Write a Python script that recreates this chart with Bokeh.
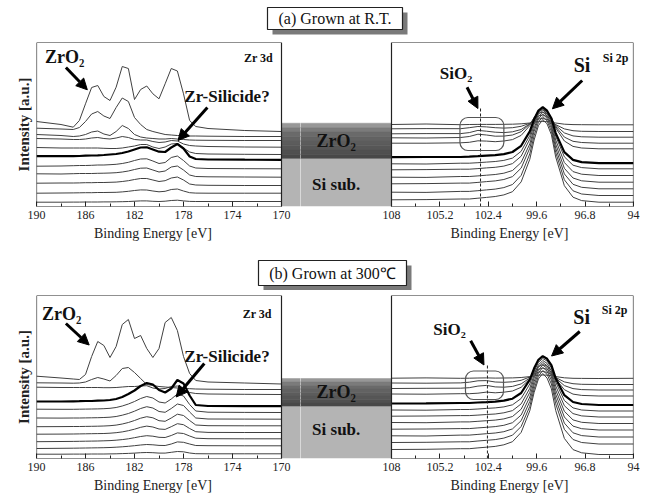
from bokeh.plotting import figure
from bokeh.models import (Range1d, FixedTicker, BoxAnnotation, Arrow, NormalHead,
                          Label, Title, PrintfTickFormatter)
from bokeh.layouts import column, row
from bokeh.embed import file_html
from bokeh.resources import INLINE
from bokeh.core.properties import value

SERIF = "Liberation Serif"

# ------------------------------------------------------------------ data
ZR_E = [190, 188, 187, 186.5, 186, 185.5, 185, 184.5, 184, 183.5, 183, 182.5, 182,
        181.5, 181, 180.5, 180, 179.5, 179, 178.5, 178, 177.5, 177, 176, 173, 170]
SI_E = [108, 106, 104, 103.5, 103, 102.5, 102, 101.5, 101, 100.5, 100, 99.75, 99.5,
        99.25, 99, 98.75, 98.5, 98, 97.5, 97, 96, 94]

# (a) grown at R.T. -- Zr 3d, offset spectra (top -> bottom)
ZR_A = [
    [85, 82, 79.3, 86, 102.7, 119, 121, 110, 106, 119.3, 140, 138, 107, 117, 120.5, 112.7, 107.7, 122.7, 138, 135.5, 112.7, 86, 80, 78, 76, 75],
    [78.3, 77.5, 77, 79, 85, 92.5, 95, 90.5, 88, 99, 108.5, 105, 89, 82, 77, 75, 73.5, 72, 71.5, 71, 71, 70.5, 70.5, 70.3, 70, 70],
    [72, 71, 70, 70.5, 72, 74.5, 75.5, 72.5, 71, 75, 81, 78, 72, 69.5, 68.5, 68, 67.5, 67.5, 68, 67.5, 67, 66.5, 66.3, 66.2, 66, 66],
    [68, 67.5, 67, 67, 67.5, 68.5, 69, 68, 67.5, 68.5, 70, 69, 67, 66.5, 66.5, 65, 64, 64.5, 66, 65.5, 62.5, 61, 60.5, 60, 59.5, 59.3],
    [59, 58.5, 58.5, 58.5, 58.5, 58.5, 58.5, 58.2, 58, 58, 58.5, 59.5, 60.5, 62, 62, 59.5, 58, 59.5, 62.5, 63, 58.5, 54.5, 53, 52.5, 52.2, 52],
    [50.3, 50.5, 50.3, 50.5, 50.8, 51, 51.2, 51.5, 52, 52.5, 53.5, 55, 57, 59, 59.2, 57, 54.8, 54.5, 59, 62.5, 58, 50, 47.5, 47, 46.8, 46.7],
    [40.3, 40.5, 40.8, 41, 41, 41.2, 41.5, 41.5, 41.8, 42.2, 43, 44.2, 46, 47.5, 47.7, 45.5, 43, 44, 49, 50.5, 46, 40.5, 38.5, 38, 37.8, 37.7],
    [32.7, 32.5, 32.8, 33, 33, 33, 33.2, 33.3, 33.5, 33.8, 34.5, 35.5, 37, 38.3, 38.5, 36.5, 34.5, 35.5, 39.5, 40.5, 36.5, 31.5, 30, 29.7, 29.5, 29.3],
    [23.3, 23.5, 23.5, 23.6, 23.8, 23.8, 24, 24, 24.2, 24.4, 25, 25.8, 27, 28, 28, 26.5, 25, 25.8, 28.5, 29.5, 26.5, 22.5, 21.5, 21.2, 21, 21],
    [13.3, 13.5, 13.6, 13.7, 13.8, 13.8, 14, 14, 14.1, 14.2, 14.6, 15.2, 16, 16.6, 16.5, 15.5, 14.7, 15.2, 17, 17.5, 15.5, 13.8, 13.4, 13.3, 13.3, 13.3],
    [4.3, 4.3, 4.4, 4.4, 4.5, 4.5, 4.5, 4.6, 4.6, 4.7, 4.8, 5, 5.3, 5.6, 5.6, 5.2, 5, 5.3, 6, 6.3, 5.6, 5.1, 5, 5, 5, 5],
]
ZR_A_BOLD = 5

# (a) Si 2p
SI_A = [
    [82, 82.5, 81.8, 82, 82.1, 82.1, 82.1, 82.2, 82.3, 82.7, 83.5, 84.2, 84.8, 85, 84.8, 84.3, 83.5, 82.3, 81.9, 81.8, 81.7, 81.7],
    [77.7, 77.9, 77.8, 78.8, 80.0, 79.6, 78.8, 78.4, 78.8, 80.2, 83.2, 85.7, 87.5, 88, 87.0, 85.2, 81.9, 77.6, 75.8, 75.2, 75, 75],
    [72.7, 72.9, 72.9, 73.9, 76.1, 75.3, 74.3, 73.9, 74.7, 77.0, 82.6, 87.1, 90.5, 91.5, 90.0, 87.0, 81.1, 73.6, 70.6, 69.7, 69.3, 69.3],
    [68.7, 68.5, 69.0, 70.0, 72.3, 71.5, 70.3, 70.4, 71.5, 74.8, 82.3, 88.6, 93.2, 94.5, 92.3, 88.1, 79.9, 69.4, 65.2, 64.0, 63.3, 63.3],
    [63.3, 63.3, 63.7, 64.2, 65.7, 65.4, 64.8, 65.5, 66.9, 71.1, 80.9, 89.1, 94.9, 97, 94.3, 88.9, 78.6, 65.5, 60.1, 58.5, 57.7, 57.7],
    [49.3, 49.5, 49.5, 49.8, 50.3, 50.9, 51.4, 52.4, 54.5, 60.7, 75.1, 87.2, 96.0, 99.3, 95.8, 88.3, 73.4, 54.4, 46.6, 44.4, 43.3, 43.3],
    [42.7, 42.5, 43.3, 43.3, 43.8, 44.4, 45.0, 46.1, 48.4, 55.2, 71.0, 84.4, 94.2, 98, 94.4, 86.4, 70.3, 49.7, 41.3, 38.9, 37.7, 37.7],
    [36.7, 36.9, 37.3, 37.3, 37.9, 38.6, 39.2, 40.4, 42.9, 50.3, 67.3, 81.8, 92.4, 96.5, 92.6, 83.8, 66.5, 44.0, 34.9, 32.3, 31, 31],
    [29.3, 29.1, 30.0, 30.0, 30.6, 31.3, 32.0, 33.3, 36.0, 44.0, 62.6, 78.3, 89.9, 94.5, 90.4, 81.1, 62.4, 38.2, 28.5, 25.7, 24.3, 24.3],
    [22.7, 22.9, 23.4, 23.4, 24.1, 24.9, 25.6, 27.0, 29.9, 38.4, 58.3, 75.1, 87.6, 92.5, 88.2, 78.3, 58.3, 32.6, 22.2, 19.2, 17.7, 17.7],
    [14.3, 14.1, 15.1, 15.1, 15.8, 16.6, 17.4, 18.9, 22.0, 31.1, 52.6, 70.8, 84.3, 90, 85.7, 75.2, 54.1, 26.7, 15.7, 12.5, 11, 11],
    [6.7, 6.9, 7.5, 7.5, 8.3, 9.1, 10.0, 11.6, 14.8, 24.6, 47.2, 66.5, 80.9, 87, 82.6, 71.8, 49.5, 20.8, 9.3, 5.9, 4.3, 4.3],
]
SI_A_BOLD = 5

# (b) grown at 300 C -- Zr 3d
ZR_B = [
    [82.3, 80.5, 79.5, 79, 84, 102, 117, 113, 101, 112, 134, 139, 120, 123, 110, 101, 110, 136, 141, 128, 102, 85, 78, 76.5, 75.5, 74.5],
    [75.7, 75.5, 75.3, 75.5, 76.5, 79, 81, 79.5, 77.5, 83, 90, 91, 86, 80, 74, 73, 72, 71.5, 71, 70.5, 70, 69.8, 69.5, 69.3, 69, 69],
    [71.3, 71, 71, 71, 71, 71, 71, 70.8, 70.8, 71, 71.5, 72, 72, 72.5, 72.8, 70.5, 69.5, 70, 72, 72.5, 69, 66, 65, 64.5, 64.2, 64],
    [57, 57, 57.2, 57.3, 57.5, 57.5, 57.8, 58, 58.5, 59.5, 61.5, 64.5, 68, 72.5, 75.5, 74, 68.5, 66, 70, 78.5, 75, 63, 53.5, 52.5, 52.3, 52.3],
    [49.3, 49.2, 49.2, 49.3, 49.4, 49.5, 49.6, 49.8, 50.2, 51, 52.5, 54.5, 57, 60, 62, 60.5, 56.5, 55.5, 59.5, 64.5, 62.5, 54, 47.5, 46.3, 46.1, 46],
    [40.5, 40.4, 40.5, 40.5, 40.6, 40.7, 40.8, 41, 41.3, 42, 43.3, 45, 47.3, 50, 51.8, 50.5, 47, 46.2, 50, 54.5, 53, 46.5, 40.5, 39.5, 39.4, 39.3],
    [31.8, 31.9, 32, 32, 32.1, 32.2, 32.3, 32.5, 32.8, 33.4, 34.5, 36, 38, 40.3, 41.8, 40.7, 37.8, 37.2, 40.5, 44.3, 43, 38, 33.5, 32.8, 32.7, 32.7],
    [24.3, 24.4, 24.5, 24.6, 24.7, 24.8, 24.9, 25, 25.3, 25.8, 26.6, 27.8, 29.3, 31.2, 32.4, 31.5, 29.5, 29.1, 31.8, 34.8, 33.8, 30, 26.8, 26.1, 26, 26],
    [16.8, 17, 17.1, 17.2, 17.3, 17.4, 17.5, 17.7, 17.9, 18.3, 18.9, 19.7, 20.8, 22, 22.8, 22.3, 21.2, 21, 23, 25.6, 25, 22.5, 20.3, 19.8, 19.7, 19.7],
    [10, 10.2, 10.3, 10.4, 10.5, 10.6, 10.7, 10.8, 11, 11.3, 11.7, 12.2, 12.8, 13.5, 14, 13.7, 13.1, 13, 14.5, 16.6, 16.2, 14.5, 13, 12.8, 12.7, 12.7],
    [4.3, 4.3, 4.4, 4.4, 4.4, 4.5, 4.5, 4.5, 4.6, 4.7, 4.9, 5.1, 5.4, 5.8, 6, 5.8, 5.4, 5.4, 6.2, 7, 6.7, 5.5, 4.8, 4.7, 4.7, 4.7],
]
ZR_B_BOLD = 3

# (b) Si 2p
SI_B = [
    [80.3, 80.6, 80.2, 80.3, 80.5, 80.6, 80.4, 80.5, 80.6, 81.0, 81.9, 82.7, 83.3, 83.5, 83.3, 82.8, 81.9, 80.7, 80.2, 80.1, 80, 80.2],
    [75.5, 75.3, 75.6, 76.3, 77.7, 77.9, 76.5, 76.2, 76.7, 78.2, 81.5, 84.3, 86.2, 87, 86.2, 84.4, 81.0, 76.6, 74.8, 74.2, 74, 74],
    [70, 70.2, 70.3, 70.8, 72.4, 73.1, 71.6, 71.3, 72.1, 74.6, 80.5, 85.4, 89.0, 90.5, 89.2, 86.3, 80.4, 72.9, 69.9, 68.9, 68.5, 68.5],
    [64.5, 64.3, 64.8, 64.8, 65.3, 66.4, 65.7, 66.3, 67.5, 71.2, 79.6, 86.6, 91.9, 94, 92.2, 88.0, 79.6, 68.8, 64.4, 63.1, 62.5, 62.5],
    [55, 55.2, 55.5, 55.5, 56.0, 56.4, 56.9, 57.9, 59.8, 65.5, 78.9, 90.2, 98.7, 102.3, 99.7, 93.3, 80.1, 63.3, 56.5, 54.5, 53.5, 53.5],
    [48.5, 48.3, 49.0, 49.0, 49.5, 50.1, 50.6, 51.6, 53.7, 60.0, 74.5, 87.0, 96.2, 100, 97.5, 90.5, 76.4, 58.0, 50.6, 48.5, 47.5, 47.5],
    [42.3, 42.5, 42.9, 42.9, 43.4, 44.0, 44.5, 45.7, 47.9, 54.6, 70.2, 83.6, 93.6, 98, 95.1, 87.7, 72.5, 52.8, 44.9, 42.6, 41.5, 41.5],
    [36, 35.8, 36.6, 36.6, 37.2, 37.8, 38.4, 39.6, 42.0, 49.3, 66.1, 80.5, 91.3, 96, 92.8, 84.8, 68.4, 47.2, 38.6, 36.2, 35, 35],
    [29.3, 29.5, 29.9, 29.9, 30.6, 31.2, 31.9, 33.2, 35.8, 43.5, 61.5, 76.9, 88.4, 93.5, 90.2, 81.7, 64.2, 41.5, 32.4, 29.8, 28.5, 28.5],
    [22.7, 22.5, 23.4, 23.4, 24.1, 24.8, 25.5, 26.8, 29.6, 37.8, 57.0, 73.4, 85.7, 91, 87.4, 78.3, 59.6, 35.4, 25.7, 22.9, 21.5, 21.5],
    [16, 16.2, 16.7, 16.7, 17.5, 18.2, 18.9, 20.4, 23.3, 32.0, 52.2, 69.5, 82.4, 88, 84.2, 74.5, 54.7, 29.2, 19.0, 16.0, 14.5, 14.5],
    [9, 9.2, 9.8, 9.8, 10.6, 11.3, 12.1, 13.7, 16.8, 26.1, 47.7, 66.0, 79.6, 85, 80.4, 69.7, 48.0, 20.1, 8.9, 5.7, 4, 4],
]
SI_B_BOLD = 4

ZR_TICKS = [190, 186, 182, 178, 174, 170]
ZR_MINOR = [188, 184, 180, 176, 172]
SI_TICKS = [108, 105.2, 102.4, 99.6, 96.8, 94]
SI_MINOR = [106.6, 103.8, 101.0, 98.2, 95.4]

TITLE_A = "(a) Grown at R.T."
TITLE_B = "(b) Grown at 300\u2103"
X_LABEL = "Binding Energy [eV]"
Y_LABEL = "Intensity [a.u.]"

# ------------------------------------------------------------------ layout (page pixels)
PAGE_W = 645
SEAM = 300                     # boundary between the two figures of a row
L_FIG_W = SEAM
R_FIG_W = PAGE_W - SEAM
L_BORDER = 36                  # left frame starts here (190 eV)
L_PANEL_RIGHT = 281            # 170 eV
R_PANEL_LEFT = 391             # 108 eV
R_PANEL_RIGHT = 633            # 94 eV
R_BORDER = PAGE_W - R_PANEL_RIGHT
ZR_PPE = (L_PANEL_RIGHT - L_BORDER) / (ZR_TICKS[0] - ZR_TICKS[-1])
SI_PPE = (R_PANEL_RIGHT - R_PANEL_LEFT) / (SI_TICKS[0] - SI_TICKS[-1])
XL_END = ZR_TICKS[-1] - (SEAM - L_PANEL_RIGHT) / ZR_PPE
XR_START = SI_TICKS[0] + (R_PANEL_LEFT - SEAM) / SI_PPE
XLABEL_X = (152.5, 509)        # page x centres of the two "Binding Energy" labels

LINE_C = "#404040"
ZRO2_SHADES = ["#979797", "#7b7b7b", "#6a6a6a", "#626262", "#5c5c5c", "#565656", "#505050", "#484848"]
SISUB_C = "#b4b4b4"

ROW_A = dict(height=186, top=4, bottom=18, ymax=164, zro2=(47.7, 83.3), sisub=(0, 47.7),
             yl_off=-2.7,
             zro2_lbl=(189.3, 150), zro2_arrow=(187.6, 139, 185.85, 116.7),
             zr3d=(170.7, 149), silicide=(174.45, 110), sil_arrow=(176.05, 99, 178.45, 66),
             sio2_lbl=(104.27, 133), sio2_arrow=(103.63, 119.3, 103.0, 98),
             si_lbl=(96.98, 141.5), si_arrow=(96.97, 126, 98.69, 97.7), si2p=(94.29, 149),
             box=(104.04, 101.5, 56, 89), dash=(102.85, 100),
             band_txt=(111.2, 66, 22))
ROW_B = dict(height=186, top=5, bottom=18, ymax=163, zro2=(52, 80), sisub=(0, 52),
             yl_off=-6.5,
             zro2_lbl=(189.55, 145), zro2_arrow=(187.6, 135, 185.7, 113.5),
             zr3d=(170.8, 145), silicide=(174.45, 102.5), sil_arrow=(176.3, 95, 178.6, 61.5),
             sio2_lbl=(104.64, 129), sio2_arrow=(103.42, 117.7, 102.65, 93.5),
             si_lbl=(97.0, 141.5), si_arrow=(97.11, 127, 98.74, 102.5), si2p=(94.35, 149),
             box=(103.72, 101.52, 59, 87.5), dash=(102.45, 94),
             band_txt=(111.2, 67, 29))


def add_label(p, x, y, text, size, align="center", bold=True, color="#111111"):
    p.add_layout(Label(x=x, y=y, text=text, text_font=SERIF,
                       text_font_style="bold" if bold else "normal",
                       text_font_size=size, text_align=align, text_baseline="middle",
                       text_color=color))


def add_arrow(p, xs, ys, xe, ye):
    p.add_layout(Arrow(end=NormalHead(size=11, fill_color="black", line_color="black"),
                       x_start=xs, y_start=ys, x_end=xe, y_end=ye,
                       line_width=3, line_color="black"))


def style_xaxis(p, ticks, minor):
    ax = p.xaxis[0]
    ax.ticker = FixedTicker(ticks=ticks, minor_ticks=minor)
    ax.formatter = PrintfTickFormatter(format="%g")
    ax.axis_line_color = None
    ax.major_tick_in = 5
    ax.major_tick_out = 0
    ax.minor_tick_in = 3
    ax.minor_tick_out = 0
    ax.major_tick_line_color = "#222222"
    ax.minor_tick_line_color = "#222222"
    ax.major_label_text_font = SERIF
    ax.major_label_text_font_size = "12px"
    ax.major_label_text_color = "#222222"
    ax.major_label_standoff = 4


def spectra(p, xs, curves, bold):
    for i, ys in enumerate(curves):
        if i != bold:
            p.line(xs, ys, line_color=LINE_C, line_width=1.0)
    p.line(xs, curves[bold], line_color="black", line_width=2.2)


def band(p, x0, x1, cfg):
    zb, zt = cfg["zro2"]
    n = len(ZRO2_SHADES)
    for k, c in enumerate(ZRO2_SHADES):
        t = zt - (zt - zb) * k / n
        b = zt - (zt - zb) * (k + 1) / n
        p.quad(left=x0, right=x1, top=t, bottom=b, fill_color=c, line_color=c, line_width=0.5)
    sb, st = cfg["sisub"]
    p.quad(left=x0, right=x1, top=st, bottom=sb, fill_color=SISUB_C, line_color=None)


def make_fig(width, xr, cfg, mbl, mbr):
    p = figure(width=width, height=cfg["height"], x_range=xr, y_range=Range1d(0, cfg["ymax"]),
               toolbar_location=None, output_backend="svg", y_axis_location=None,
               min_border_top=cfg["top"], min_border_bottom=cfg["bottom"],
               min_border_left=mbl, min_border_right=mbr)
    p.outline_line_color = None
    p.grid.visible = False
    p.background_fill_color = "white"
    p.border_fill_color = "white"
    return p


def build_row(zr, zr_bold, si, si_bold, cfg):
    pl = make_fig(L_FIG_W, Range1d(ZR_TICKS[0], XL_END), cfg, L_BORDER, 0)
    pr = make_fig(R_FIG_W, Range1d(XR_START, SI_TICKS[-1]), cfg, 0, R_BORDER)
    ymax = cfg["ymax"]

    # the layer schematic between the two panels (extends past the frame edge)
    band(pl, ZR_TICKS[-1], XL_END - 2, cfg)
    band(pr, XR_START + 2, SI_TICKS[0], cfg)

    spectra(pl, ZR_E, zr, zr_bold)
    spectra(pr, SI_E, si, si_bold)

    for p, a, b in ((pl, ZR_TICKS[0], ZR_TICKS[-1]), (pr, SI_TICKS[0], SI_TICKS[-1])):
        p.add_layout(BoxAnnotation(left=a, right=b, bottom=0, top=ymax, fill_alpha=0,
                                   line_color="#222222", line_alpha=1, line_width=1.2))

    style_xaxis(pl, ZR_TICKS, ZR_MINOR)
    style_xaxis(pr, SI_TICKS, SI_MINOR)
    pl.add_layout(Title(text=Y_LABEL, align="center", offset=cfg["yl_off"], text_font=SERIF,
                        text_font_size="15px", text_font_style="bold",
                        text_color="#222222", standoff=9), "left")

    # Zr 3d annotations
    add_label(pl, *cfg["zro2_lbl"], "ZrO\u2082", "18px", align="left")
    add_arrow(pl, *cfg["zro2_arrow"])
    add_label(pl, *cfg["zr3d"], "Zr 3d", "12px", align="right")
    add_label(pl, *cfg["silicide"], "Zr-Silicide?", "17px")
    add_arrow(pl, *cfg["sil_arrow"])

    # Si 2p annotations
    bx0, bx1, by0, by1 = cfg["box"]
    pr.add_layout(BoxAnnotation(left=bx0, right=bx1, bottom=by0, top=by1, fill_alpha=0,
                                line_color="#555555", line_alpha=1, line_width=1.2,
                                border_radius=8))
    dx, dtop = cfg["dash"]
    pr.segment(x0=[dx], y0=[0], x1=[dx], y1=[dtop], line_color="#222222",
               line_width=1, line_dash="3 2")
    add_label(pr, *cfg["sio2_lbl"], "SiO\u2082", "17px")
    add_arrow(pr, *cfg["sio2_arrow"])
    add_label(pr, *cfg["si_lbl"], "Si", "20px")
    add_arrow(pr, *cfg["si_arrow"])
    add_label(pr, *cfg["si2p"], "Si 2p", "12px", align="right")

    tx, ty1, ty2 = cfg["band_txt"]
    add_label(pr, tx, ty1, "ZrO\u2082", "18px")
    add_label(pr, tx, ty2, "Si sub.", "17px")
    return row(pl, pr)


def strip_fig(height):
    p = figure(width=PAGE_W, height=height, x_range=Range1d(0, PAGE_W),
               y_range=Range1d(height, 0), toolbar_location=None, output_backend="svg",
               x_axis_location=None, y_axis_location=None, min_border=0)
    p.outline_line_color = None
    p.grid.visible = False
    return p


def make_title(text, height, x0, x1, y0, y1):
    p = strip_fig(height)
    p.quad(left=x0 + 5, right=x1 + 5, top=y0 + 5, bottom=y1 + 5,
           fill_color="#7a7a7a", line_color=None)
    p.quad(left=x0, right=x1, top=y0, bottom=y1, fill_color="white",
           line_color="#222222", line_width=1.2)
    p.text(x=[(x0 + x1) / 2], y=[(y0 + y1) / 2], text=[text], text_align="center",
           text_baseline="middle", text_font=value(SERIF), text_font_size="16px",
           text_color="#111111")
    return p


def make_xlabels(height, y):
    p = strip_fig(height)
    p.text(x=list(XLABEL_X), y=[y, y], text=[X_LABEL, X_LABEL], text_align="center",
           text_baseline="middle", text_font=value(SERIF), text_font_size="14px",
           text_color="#222222")
    return p


title_a = make_title(TITLE_A, 38, 267, 402, 7, 29)
row_a = build_row(ZR_A, ZR_A_BOLD, SI_A, SI_A_BOLD, ROW_A)
xlab_a = make_xlabels(17, 8.5)
title_b = make_title(TITLE_B, 49, 258, 406, 19, 44)
row_b = build_row(ZR_B, ZR_B_BOLD, SI_B, SI_B_BOLD, ROW_B)
xlab_b = make_xlabels(17, 8.5)

layout = column(title_a, row_a, xlab_a, title_b, row_b, xlab_b)
open("out.html", "w").write(file_html(layout, INLINE, title="XPS Zr 3d / Si 2p"))
